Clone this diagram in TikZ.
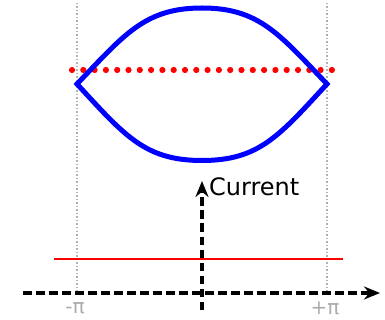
\documentclass[tikz,border=0pt]{standalone}
\usepackage{fontspec}
\setmainfont{DejaVu Sans}
\usetikzlibrary{arrows.meta}
\begin{document}
\begin{tikzpicture}[x=1pt,y=-1pt,
  guide/.style={draw=gray!60,line width=1.5pt,dotted},
  band/.style={draw=blue,line width=5pt,line join=miter},
  axisarrow/.style={draw=black,line width=4.6pt,dash pattern=on 8.5pt off 4.5pt,-{Stealth[length=16pt,width=13pt]}},
  lbl/.style={text=gray!65,font=\fontsize{20}{22}\selectfont,inner sep=0pt}]
\useasboundingbox (0,0) rectangle (385,320);
\coordinate (gl1) at (77,3); \coordinate (gl2) at (77,293);
\coordinate (gr1) at (327,3); \coordinate (gr2) at (327,293);
\draw[guide] (gl1) -- (gl2);
\draw[guide] (gr1) -- (gr2);
% red dotted line
\foreach \i in {0,...,23} { \fill[red] ({72+11.3*\i},70) circle (3.1pt); }
% band
\coordinate (vl) at (77,84); \coordinate (vr) at (327,84);
\coordinate (top) at (202,8); \coordinate (bot) at (202,160.5);
\draw[band] (vl) .. controls (125,34) and (145,8) .. (top)
  .. controls (259,8) and (279,34) .. (vr)
  .. controls (279,136) and (259,160.5) .. (bot)
  .. controls (145,160.5) and (125,136) .. cycle;
% red solid
\coordinate (r1) at (54,259); \coordinate (r2) at (343,259);
\draw[red,line width=2.2pt] (r1) -- (r2);
% axes
\coordinate (h1) at (23,293); \coordinate (h2) at (380,293);
\coordinate (v1) at (202,310); \coordinate (v2) at (202,181);
\draw[axisarrow] (h1) -- (h2);
\draw[axisarrow] (v1) -- (v2);
\node[anchor=west,inner sep=0pt,font=\fontsize{24}{27}\selectfont] (cur) at (209,187) {Current};
\node[lbl] (mpi) at (75,308) {-π};
\node[lbl] (ppi) at (325,308) {+π};
\end{tikzpicture}
\end{document}
